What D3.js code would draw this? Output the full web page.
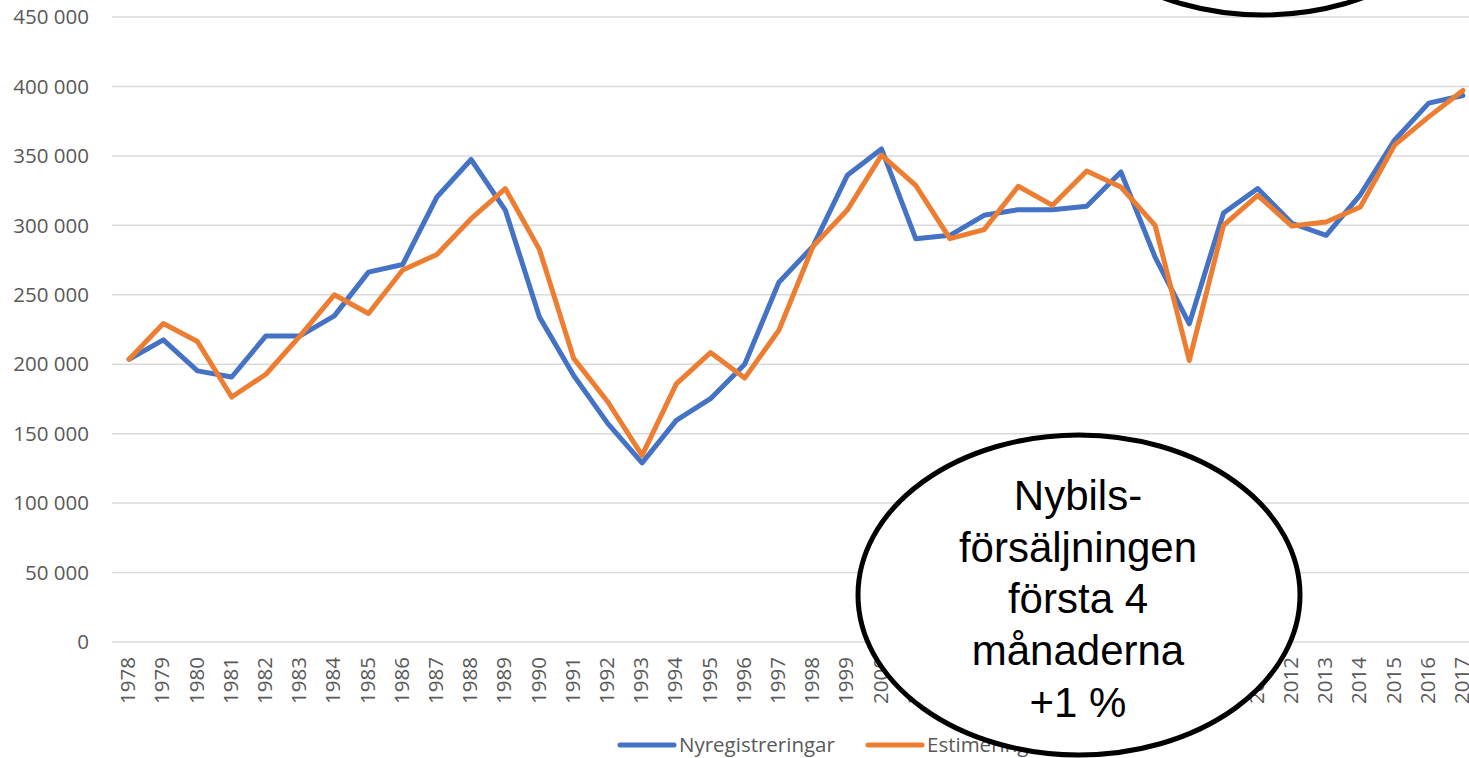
<!DOCTYPE html>
<html>
<head>
<meta charset="utf-8">
<script src="https://cdn.jsdelivr.net/npm/d3@7"></script>
<style>
	body { margin: 0; background: #fff; overflow: hidden; }
	svg { display: block; }
</style>
</head>
<body>
<div id="chart"></div>
<script>
var years = [1978, 1979, 1980, 1981, 1982, 1983, 1984, 1985, 1986, 1987,
	1988, 1989, 1990, 1991, 1992, 1993, 1994, 1995, 1996, 1997,
	1998, 1999, 2000, 2001, 2002, 2003, 2004, 2005, 2006, 2007,
	2008, 2009, 2010, 2011, 2012, 2013, 2014, 2015, 2016, 2017];

var nyregistreringar = [203600, 217500, 195200, 190800, 220400, 220400, 234800, 266300, 271800, 320400,
	347400, 311000, 233900, 191900, 157200, 129000, 159600, 175200, 200000, 259000,
	285000, 336000, 355000, 290400, 292800, 307200, 311300, 311300, 313700, 338400,
	277100, 229100, 308900, 326500, 301500, 292800, 322000, 361300, 388000, 393500];

var estimering = [203600, 229300, 216300, 176400, 192800, 220400, 250000, 236500, 267800, 279000,
	304800, 326500, 282500, 204200, 172800, 134400, 185800, 208400, 190000, 224500,
	285000, 311000, 350500, 328800, 290400, 296900, 328100, 314400, 339100, 327600,
	300000, 202700, 300000, 321600, 299500, 302400, 313200, 357700, 378100, 397100];

var yTicks = [0, 50000, 100000, 150000, 200000, 250000, 300000, 350000, 400000, 450000];

var seriesNames = ["Nyregistreringar", "Estimering"];
var noteLines = ["Nybils-", "försäljningen", "första 4", "månaderna", "+1 %"];

var width = 1469,
	height = 758,
	colors = ["#4472C4", "#ED7D31"],
	labelFont = "'Open Sans', 'DejaVu Sans', sans-serif",
	labelSize = 20.5;

var svg = d3.select("#chart")
	.append("svg")
	.attr("width", width)
	.attr("height", height);

// category axis runs past the right edge, like the cropped original
var x = d3.scaleBand()
	.domain(years)
	.range([112, 112 + years.length * 34.2]);

var y = d3.scaleLinear()
	.domain([0, 450000])
	.range([642, 17]);

var fmt = function (d) { return d3.format(",")(d).replace(/,/g, " "); };

// gridlines
svg.append("g")
	.selectAll("line")
	.data(yTicks)
	.enter()
	.append("line")
	.attr("x1", 112)
	.attr("x2", width)
	.attr("y1", function (d) { return y(d); })
	.attr("y2", function (d) { return y(d); })
	.attr("stroke", "#d9d9d9")
	.attr("stroke-width", 1.5);

// y labels
svg.append("g")
	.selectAll("text")
	.data(yTicks)
	.enter()
	.append("text")
	.attr("x", 89)
	.attr("y", function (d) { return y(d); })
	.attr("dy", "0.35em")
	.attr("text-anchor", "end")
	.attr("font-family", labelFont)
	.attr("font-size", labelSize)
	.attr("fill", "#595959")
	.text(fmt);

// x labels, rotated
svg.append("g")
	.selectAll("text")
	.data(years)
	.enter()
	.append("text")
	.attr("transform", function (d) {
		return "translate(" + (x(d) + x.bandwidth() / 2 - 1) + ",657) rotate(-90)";
	})
	.attr("dy", "0.35em")
	.attr("text-anchor", "end")
	.attr("font-family", labelFont)
	.attr("font-size", labelSize)
	.attr("fill", "#595959")
	.text(function (d) { return d; });

var line = d3.line()
	.x(function (d, i) { return x(years[i]) + x.bandwidth() / 2; })
	.y(function (d) { return y(d); });

svg.append("g")
	.selectAll("path")
	.data([nyregistreringar, estimering])
	.enter()
	.append("path")
	.attr("d", line)
	.attr("fill", "none")
	.attr("stroke", function (d, i) { return colors[i]; })
	.attr("stroke-width", 5)
	.attr("stroke-linejoin", "round")
	.attr("stroke-linecap", "round");

// legend
var legendX = [620, 868];
var legend = svg.append("g")
	.selectAll("g")
	.data(seriesNames)
	.enter()
	.append("g")
	.attr("transform", function (d, i) { return "translate(" + legendX[i] + ",745)"; });

legend.append("line")
	.attr("x1", 0)
	.attr("x2", 54)
	.attr("stroke", function (d, i) { return colors[i]; })
	.attr("stroke-width", 5)
	.attr("stroke-linecap", "round");

legend.append("text")
	.attr("x", 59)
	.attr("dy", "0.35em")
	.attr("font-family", labelFont)
	.attr("font-size", labelSize)
	.attr("fill", "#595959")
	.text(function (d) { return d; });

// callout ellipses
svg.append("ellipse")
	.attr("cx", 1263)
	.attr("cy", -145)
	.attr("rx", 221)
	.attr("ry", 160)
	.attr("fill", "#fff")
	.attr("stroke", "#000")
	.attr("stroke-width", 5);

svg.append("ellipse")
	.attr("cx", 1079)
	.attr("cy", 595)
	.attr("rx", 221)
	.attr("ry", 160)
	.attr("fill", "#fff")
	.attr("stroke", "#000")
	.attr("stroke-width", 5);

svg.append("g")
	.selectAll("text")
	.data(noteLines)
	.enter()
	.append("text")
	.attr("x", 1078)
	.attr("y", function (d, i) { return 510 + i * 51.7; })
	.attr("text-anchor", "middle")
	.attr("font-family", "'Liberation Sans', Arial, sans-serif")
	.attr("font-size", 42)
	.attr("fill", "#000")
	.text(function (d) { return d; });
</script>
</body>
</html>
